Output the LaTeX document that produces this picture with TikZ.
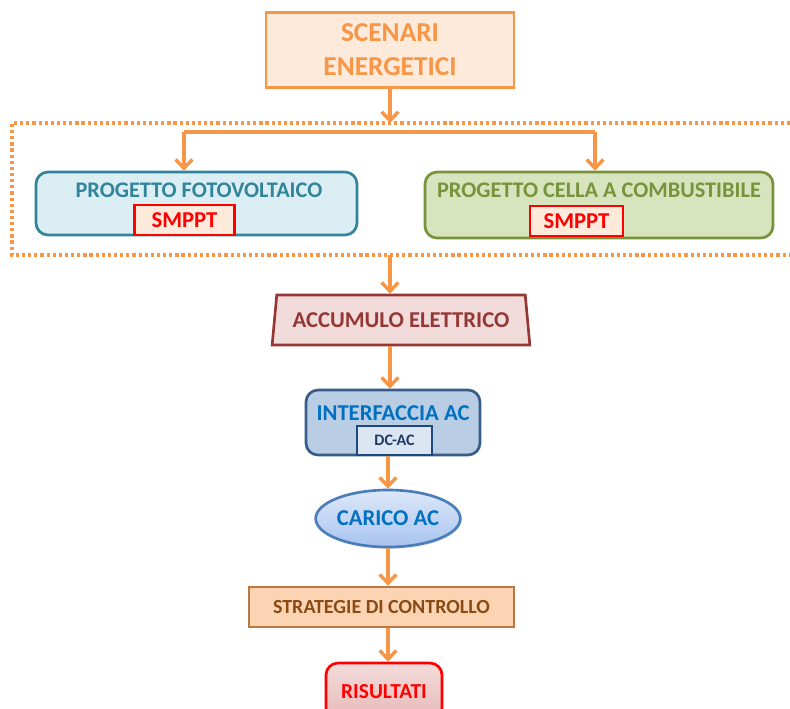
\documentclass[tikz,border=0pt]{standalone}
\usepackage{fontspec}
\setmainfont{Carlito}
\usepackage{tikz}
\usetikzlibrary{arrows.meta}
\usetikzlibrary{shapes.geometric}
\usetikzlibrary{shadows}
\definecolor{arancio}{HTML}{F79646}
\definecolor{aranciochiaro}{HTML}{FDEADA}
\definecolor{fvfondo}{HTML}{DAEEF3}
\definecolor{fvbordo}{HTML}{31849B}
\definecolor{fcfondo}{HTML}{D7E4BD}
\definecolor{fcbordo}{HTML}{77933C}
\definecolor{accfondo}{HTML}{F2DCDB}
\definecolor{accbordo}{HTML}{953735}
\definecolor{acfondo}{HTML}{B9CDE5}
\definecolor{acbordo}{HTML}{385D8A}
\definecolor{actesto}{HTML}{0070C0}
\definecolor{dcfondo}{HTML}{DCE6F2}
\definecolor{dcbordo}{HTML}{1F497D}
\definecolor{dctesto}{HTML}{1F3864}
\definecolor{caricoalto}{HTML}{DDE8F8}
\definecolor{caricobasso}{HTML}{A8C3F0}
\definecolor{caricobordo}{HTML}{4A7EBB}
\definecolor{stratfondo}{HTML}{FBD4B4}
\definecolor{stratbordo}{HTML}{BC7840}
\definecolor{strattesto}{HTML}{8B4A12}
\definecolor{risbasso}{HTML}{E6B9B8}
\tikzset{basic/.style={draw,line width=2pt,font=\bfseries,
                       inner sep=0pt,align=center}}
\tikzset{blocco/.style={basic,rounded corners=9pt}}
\tikzset{smppt/.style={basic,draw=red,fill=aranciochiaro,text=red,
                       minimum width=#1,minimum height=22.5pt,
                       font=\fontsize{17}{20}\bfseries\selectfont}}

\begin{document}
\begin{tikzpicture}[x=0.75pt,y=-0.75pt,>={Straight Barb[length=6.5pt,width=12.5pt]}]
	\tikzstyle{freccia}=[->,draw=arancio,line width=2.6pt]
	\tikzstyle{testo}=[inner sep=0pt,font=\fontsize{16.7}{20}\bfseries\selectfont]
    % the page keeps the size of the reference
    \useasboundingbox (0,0) rectangle (790,708);

  % Top: scenari
  \node (scen) [basic,draw=arancio,fill=aranciochiaro,text=arancio,
        minimum width=186pt,minimum height=56.25pt,
        font=\fontsize{20.5}{25.5}\bfseries\selectfont] at (390,50)
        {SCENARI\\ENERGETICI};

  % Dotted group round the two projects
  \draw[arancio,line width=2.4pt,dash pattern=on 2.4pt off 2.2pt]
        (790,123) -| (12,255) -- (790,255);
  \coordinate (g_top) at (390,123);
  \coordinate (g_bot) at (390,255);
  \coordinate (bus_l) at (184,132);
  \coordinate (bus_r) at (595,132);

  % Projects
  \node (prog_fv) [blocco,draw=fvbordo,fill=fvfondo,
        minimum width=240.75pt,minimum height=47.25pt] at (196.5,203.5) {};
  \node (prog_fv_t) [testo,text=fvbordo] at (199,190) {PROGETTO FOTOVOLTAICO};
  \node (smppt_fv) [smppt=75pt] at (184.5,220) {SMPPT};

  \node (prog_fc) [blocco,draw=fcbordo,fill=fcfondo,
        minimum width=261pt,minimum height=49.5pt] at (599,205) {};
  \node (prog_fc_t) [testo,text=fcbordo] at (599,190) {PROGETTO CELLA A COMBUSTIBILE};
  \node (smppt_fc) [smppt=69.75pt] at (576.5,221) {SMPPT};

  % Chain below
  \node (acc) [basic,trapezium,trapezium stretches=true,
        trapezium left angle=75,trapezium right angle=75,
        draw=accbordo,fill=accfondo,text=accbordo,
        minimum width=193.5pt,minimum height=37.5pt,
        font=\fontsize{17}{20}\bfseries\selectfont] at (401,320)
        {ACCUMULO ELETTRICO};

  \node (interf) [blocco,draw=acbordo,fill=acfondo,
        minimum width=130.5pt,minimum height=48.75pt] at (393,422.5) {};
  \node (interf_t) [testo,text=actesto,font=\fontsize{17}{20}\bfseries\selectfont]
        at (393,413) {INTERFACCIA AC};
  \node (dcac) [basic,draw=dcbordo,fill=dcfondo,text=dctesto,
        minimum width=56.25pt,minimum height=21.75pt,
        font=\fontsize{12}{14}\bfseries\selectfont] at (394.5,440.5) {DC-AC};

  \node (carico) [basic,ellipse,draw=caricobordo,top color=caricoalto,
        bottom color=caricobasso,text=actesto,
        drop shadow={opacity=0.2,shadow xshift=1pt,shadow yshift=-1.5pt},
        minimum width=94.5pt,minimum height=42.75pt,
        font=\fontsize{17}{20}\bfseries\selectfont] at (388,518.5) {CARICO AC};

  \node (strat) [basic,draw=stratbordo,fill=stratfondo,text=strattesto,
        minimum width=198.75pt,minimum height=30pt,
        font=\fontsize{15}{18}\bfseries\selectfont] at (381.5,607)
        {STRATEGIE DI CONTROLLO};

  \node (ris) [blocco,draw=red,top color=accfondo,bottom color=risbasso,
        text=red,minimum width=87pt,minimum height=42.75pt,
        font=\fontsize{16}{19}\bfseries\selectfont] at (384,691.5) {RISULTATI};

    % Connections
    \draw[arancio,line width=2.6pt] (bus_l) -- (bus_r);
    \path[every edge/.append style={freccia}]
        (scen) edge (g_top)
        (bus_l) edge (bus_l |- prog_fv.north)
        (bus_r) edge (bus_r |- prog_fc.north)
        (g_bot) edge (g_bot |- acc.north)
        (acc.south -| g_bot) edge (g_bot |- interf.north)
        (carico.north |- interf.south) edge (carico.north)
        (carico.south) edge (carico.south |- strat.north)
        (carico.south |- strat.south) edge (carico.south |- ris.north)
        ;
\end{tikzpicture}
\end{document}
